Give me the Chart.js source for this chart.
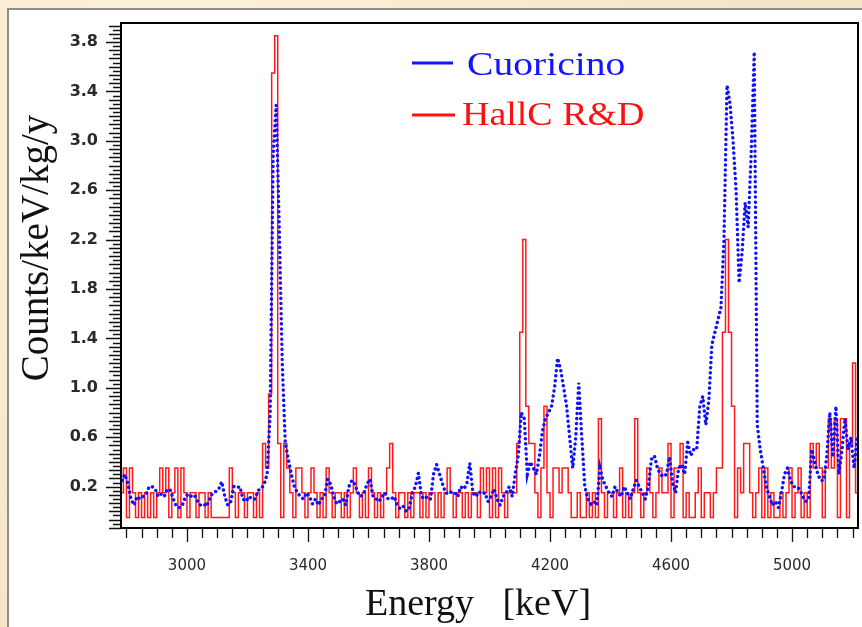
<!DOCTYPE html>
<html>
<head>
<meta charset="utf-8">
<script src="https://cdn.jsdelivr.net/npm/chart.js@4.4.1/dist/chart.umd.min.js"></script>
<style>
    html, body { margin: 0; padding: 0; width: 862px; height: 627px; overflow: hidden; }
    body { background: radial-gradient(circle at 20% 10%, #fbf1da 0%, #f6e7c8 60%, #f3e2c0 100%); }
    #panel { position: absolute; left: 7px; top: 8px; width: 880px; height: 650px; background: #fff; border: 2px solid #8d8d8d; box-sizing: border-box; }
    #spectrum { position: absolute; left: 0; top: 0; }
</style>
</head>
<body>
<div id="panel"></div>
<canvas id="spectrum" width="862" height="627"></canvas>
<script>
// 10 keV bins, first bin starts at 2780 keV
const binStart = 2780;
const binWidth = 10;

// Cuoricino (blue dotted), counts/keV/kg/y per bin
const cuoricino = [
    0.25, 0.3, 0.22, 0.1, 0.05, 0.12, 0.1, 0.12, 0.14, 0.2,
    0.2, 0.18, 0.12, 0.14, 0.12, 0.18, 0.17, 0.1, 0.04, 0.03,
    0.05, 0.12, 0.14, 0.12, 0.13, 0.08, 0.05, 0.06, 0.04, 0.1,
    0.15, 0.16, 0.18, 0.24, 0.12, 0.05, 0.08, 0.2, 0.19, 0.2,
    0.1, 0.08, 0.12, 0.1, 0.1, 0.17, 0.18, 0.22, 0.3, 0.8,
    2.9, 3.29, 2.3, 1.2, 0.55, 0.42, 0.3, 0.2, 0.15, 0.12,
    0.1, 0.15, 0.12, 0.06, 0.1, 0.05, 0.1, 0.12, 0.26, 0.22,
    0.12, 0.06, 0.08, 0.1, 0.05, 0.2, 0.25, 0.22, 0.15, 0.12,
    0.15, 0.22, 0.26, 0.12, 0.1, 0.08, 0.12, 0.15, 0.1, 0.1,
    0.12, 0.05, 0.02, 0.04, 0.0, 0.03, 0.15, 0.2, 0.31, 0.12,
    0.1, 0.12, 0.1, 0.3, 0.38, 0.3, 0.22, 0.15, 0.14, 0.16,
    0.15, 0.12, 0.2, 0.18, 0.22, 0.39, 0.15, 0.12, 0.16, 0.14,
    0.15, 0.08, 0.12, 0.18, 0.1, 0.05, 0.12, 0.15, 0.2, 0.12,
    0.3, 0.45, 0.8, 0.75, 0.3, 0.4, 0.35, 0.3, 0.45, 0.65,
    0.75, 0.8, 0.85, 1.0, 1.24, 1.15, 1.0, 0.85, 0.6, 0.35,
    0.6, 1.04, 0.6, 0.2, 0.1, 0.06, 0.08, 0.05, 0.35, 0.25,
    0.2, 0.15, 0.12, 0.2, 0.15, 0.12, 0.2, 0.15, 0.1, 0.18,
    0.25, 0.2, 0.15, 0.1, 0.2, 0.42, 0.45, 0.35, 0.3, 0.28,
    0.3, 0.44, 0.23, 0.15, 0.35, 0.38, 0.3, 0.56, 0.45, 0.5,
    0.5, 0.85, 0.93, 0.7, 0.9, 1.35, 1.45, 1.55, 1.65, 2.2,
    3.45, 3.3, 3.0, 2.6, 1.85, 2.1, 2.5, 2.3, 2.9, 3.72,
    0.7, 0.5, 0.35, 0.2, 0.12, 0.05, 0.08, 0.03, 0.15, 0.3,
    0.35, 0.25, 0.2, 0.2, 0.18, 0.12, 0.08, 0.1, 0.5, 0.4,
    0.3, 0.25, 0.25, 0.45, 0.8, 0.44, 0.85, 0.3, 0.5, 0.75,
    0.5, 0.6, 0.35, 0.6
];

// HallC R&D (red histogram)
const hallc = [
    0.15, 0.35, -0.05, 0.35, 0.15, -0.05, 0.15, -0.05, 0.15, -0.05,
    0.15, -0.05, 0.15, 0.35, 0.15, 0.35, -0.05, 0.15, 0.35, -0.05,
    0.35, 0.15, -0.05, 0.15, 0.15, -0.05, 0.15, 0.15, -0.05, 0.15,
    -0.05, -0.05, -0.05, -0.05, -0.05, -0.05, 0.35, 0.15, -0.05, 0.15,
    0.15, -0.05, 0.15, 0.15, -0.05, 0.15, -0.05, 0.55, 0.35, 0.95,
    3.55, 3.85, 0.55, -0.05, 0.55, 0.35, 0.15, -0.05, 0.35, 0.35,
    0.15, -0.05, 0.15, 0.35, 0.15, -0.05, 0.15, -0.05, 0.35, 0.15,
    -0.05, 0.15, 0.15, -0.05, 0.15, -0.05, 0.15, 0.35, 0.15, -0.05,
    0.15, -0.05, 0.35, 0.15, -0.05, 0.15, -0.05, 0.15, 0.35, 0.55,
    0.15, -0.05, 0.15, 0.15, -0.05, 0.15, -0.05, 0.15, 0.15, -0.05,
    0.15, -0.05, 0.15, 0.15, -0.05, 0.15, -0.05, 0.15, 0.35, 0.15,
    -0.05, 0.15, 0.15, -0.05, 0.15, -0.05, 0.15, 0.15, -0.05, 0.35,
    0.15, 0.35, -0.05, 0.35, -0.05, 0.35, 0.15, -0.05, 0.15, 0.15,
    0.15, 0.55, 1.45, 2.2, 0.85, 0.55, 0.55, 0.15, -0.05, 0.35,
    0.85, 0.15, -0.05, 0.35, 0.35, 0.15, 0.35, 0.35, 0.15, -0.05,
    -0.05, 0.15, -0.05, -0.05, 0.15, -0.05, 0.15, -0.05, 0.75, 0.15,
    -0.05, 0.15, 0.15, -0.05, 0.15, 0.35, -0.05, 0.15, -0.05, 0.15,
    0.75, 0.15, -0.05, 0.15, 0.35, 0.15, -0.05, 0.15, 0.35, 0.15,
    0.15, 0.55, -0.05, 0.35, 0.35, 0.55, -0.05, 0.15, -0.05, -0.05,
    0.15, 0.35, -0.05, 0.15, 0.15, -0.05, 0.15, 0.35, 0.35, 1.45,
    2.2, 1.45, 0.85, -0.05, 0.35, 0.15, 0.55, 0.55, 0.15, -0.05,
    0.15, 0.35, -0.05, 0.35, -0.05, 0.15, -0.05, -0.05, 0.15, -0.05,
    0.15, 0.35, -0.05, 0.15, 0.35, -0.05, 0.15, -0.05, 0.55, 0.35,
    0.55, 0.35, -0.05, 0.35, 0.75, 0.35, 0.75, -0.05, 0.75, 0.75,
    -0.05, 0.55, 1.2, 0.15
];

const xTickLabels = [3000, 3400, 3800, 4200, 4600, 5000];
const yTickLabels = [0.2, 0.6, 1.0, 1.4, 1.8, 2.2, 2.6, 3.0, 3.4, 3.8];

const toPoints = arr => arr.map((v, i) => ({ x: binStart + binWidth * (i + 0.5), y: v }));

// ticks, labels, frame, titles and the little legend
const decor = {
    id: 'decor',
    afterDatasetsDraw(chart) {
        const { ctx, chartArea: a, scales: { x, y } } = chart;
        ctx.save();

        // y ticks: 12 per labelled step, every other one longer
        ctx.strokeStyle = '#111';
        ctx.lineWidth = 1.3;
        ctx.beginPath();
        for (let k = -5; k <= 125; k++) {
            const v = 3.8 - k * 0.4 / 12;
            if (v < y.min || v > y.max) continue;
            const py = Math.round(y.getPixelForValue(v)) + 0.5;
            const len = k % 12 === 0 ? 15 : (k % 2 === 0 ? 12 : 8);
            ctx.moveTo(a.left - len, py);
            ctx.lineTo(a.left, py);
        }
        ctx.stroke();

        // x ticks every 50 keV
        ctx.beginPath();
        for (let e = 2800; e <= 5200; e += 50) {
            const px = Math.round(x.getPixelForValue(e)) + 0.5;
            const len = (e - 3000) % 400 === 0 ? 13 : 9;
            ctx.moveTo(px, a.bottom + 1);
            ctx.lineTo(px, a.bottom + 1 + len);
        }
        ctx.stroke();

        // frame
        ctx.strokeStyle = '#000';
        ctx.lineWidth = 2;
        ctx.strokeRect(a.left, a.top, a.right - a.left, a.bottom - a.top);

        // tick labels
        ctx.fillStyle = '#2a2a2a';
        ctx.font = 'bold 16px "DejaVu Sans"';
        ctx.textAlign = 'right';
        ctx.textBaseline = 'middle';
        yTickLabels.forEach(v => ctx.fillText(v.toFixed(1), 98, y.getPixelForValue(v)));
        ctx.font = '15px "DejaVu Sans"';
        ctx.textAlign = 'center';
        xTickLabels.forEach(e => ctx.fillText(String(e), x.getPixelForValue(e), 566));

        // axis titles
        ctx.fillStyle = '#111';
        ctx.font = '38px "Liberation Serif"';
        ctx.textBaseline = 'alphabetic';
        ctx.fillText('Energy   [keV]', 478, 615);
        ctx.save();
        ctx.translate(48, 248);
        ctx.rotate(-Math.PI / 2);
        ctx.font = '39px "Liberation Serif"';
        ctx.fillText('Counts/keV/kg/y', 0, 0);
        ctx.restore();

        // legend
        ctx.lineWidth = 3;
        ctx.strokeStyle = '#1414ff';
        ctx.beginPath(); ctx.moveTo(412, 63); ctx.lineTo(453, 63); ctx.stroke();
        ctx.strokeStyle = '#ff1010';
        ctx.beginPath(); ctx.moveTo(412, 115); ctx.lineTo(455, 115); ctx.stroke();
        ctx.textAlign = 'left';
        ctx.font = '33px "Liberation Serif"';
        ctx.save();
        ctx.translate(467, 75); ctx.scale(1.2, 1);
        ctx.fillStyle = '#1414ff';
        ctx.fillText('Cuoricino', 0, 0);
        ctx.restore();
        ctx.save();
        ctx.translate(462, 125); ctx.scale(1.15, 1);
        ctx.fillStyle = '#ff1010';
        ctx.fillText('HallC R&D', 0, 0);
        ctx.restore();

        ctx.restore();
    }
};

new Chart(document.getElementById('spectrum'), {
    type: 'line',
    data: {
        datasets: [{
            label: 'Cuoricino',
            data: toPoints(cuoricino),
            borderColor: '#1010ff',
            borderWidth: 3.4,
            borderDash: [0.1, 5],
            borderCapStyle: 'round',
            pointRadius: 0,
            tension: 0
        }, {
            label: 'HallC R&D',
            data: toPoints(hallc),
            borderColor: 'rgba(255, 0, 0, 0.9)',
            borderWidth: 1.5,
            stepped: 'middle',
            pointRadius: 0
        }]
    },
    options: {
        responsive: false,
        animation: false,
        layout: { padding: { left: 121, top: 23, right: 4, bottom: 99 } },
        plugins: { legend: { display: false }, tooltip: { enabled: false } },
        scales: {
            x: { type: 'linear', min: 2782, max: 5218, display: false },
            y: { min: -0.135, max: 3.954, display: false }
        }
    },
    plugins: [decor]
});
</script>
</body>
</html>
